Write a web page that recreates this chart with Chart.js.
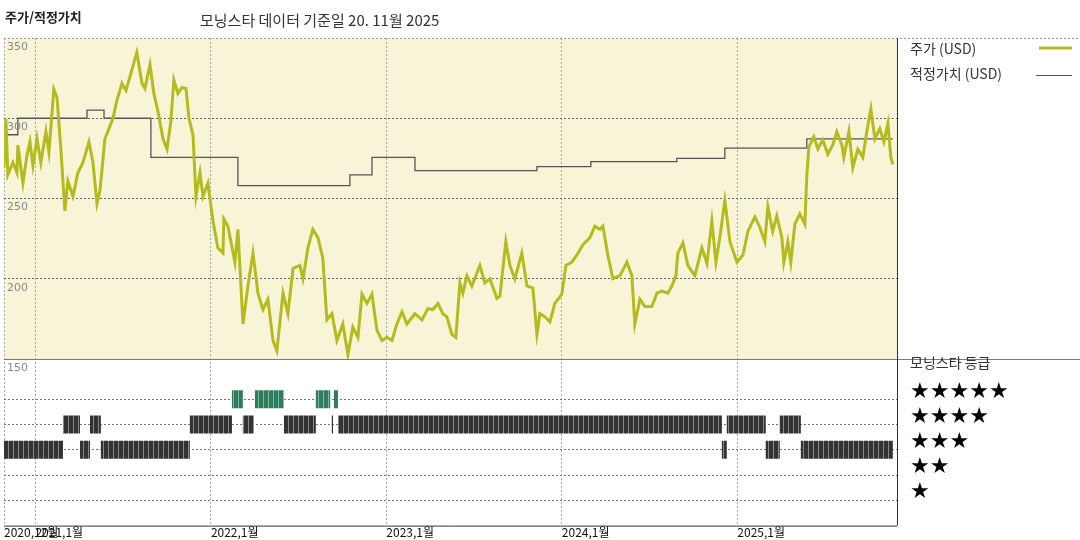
<!DOCTYPE html>
<html>
<head>
<meta charset="utf-8">
<script src="https://cdn.jsdelivr.net/npm/chart.js@4"></script>
<style>
  body { margin: 0; background: #fff; }
  #wrap { position: relative; width: 1080px; height: 540px; }
</style>
</head>
<body>
<div id="wrap"><canvas id="chart" width="1080" height="540"></canvas></div>
<script>
// x values are decimal years
const priceDates = [2020.821,2020.832,2020.843,2020.872,2020.895,2020.900,2020.929,2020.952,2020.969,2020.986,2021.009,2021.031,2021.060,2021.077,2021.105,2021.123,2021.145,2021.168,2021.185,2021.214,2021.242,2021.271,2021.305,2021.328,2021.351,2021.368,2021.396,2021.413,2021.442,2021.464,2021.493,2021.516,2021.550,2021.578,2021.607,2021.624,2021.653,2021.675,2021.698,2021.727,2021.750,2021.772,2021.789,2021.812,2021.835,2021.858,2021.875,2021.898,2021.915,2021.938,2021.955,2021.983,2022.012,2022.040,2022.069,2022.074,2022.097,2022.137,2022.154,2022.183,2022.211,2022.240,2022.268,2022.297,2022.325,2022.354,2022.376,2022.411,2022.439,2022.468,2022.507,2022.525,2022.553,2022.581,2022.610,2022.638,2022.661,2022.690,2022.718,2022.752,2022.781,2022.809,2022.838,2022.861,2022.889,2022.918,2022.946,2022.975,2023.003,2023.032,2023.060,2023.089,2023.117,2023.163,2023.203,2023.237,2023.265,2023.294,2023.322,2023.345,2023.373,2023.396,2023.419,2023.436,2023.459,2023.487,2023.510,2023.533,2023.561,2023.590,2023.630,2023.647,2023.681,2023.704,2023.732,2023.772,2023.801,2023.835,2023.858,2023.875,2023.903,2023.932,2023.960,2024.000,2024.023,2024.057,2024.086,2024.120,2024.160,2024.188,2024.217,2024.234,2024.262,2024.291,2024.331,2024.371,2024.399,2024.416,2024.445,2024.473,2024.513,2024.542,2024.570,2024.604,2024.627,2024.650,2024.661,2024.690,2024.718,2024.758,2024.798,2024.827,2024.855,2024.878,2024.901,2024.929,2024.958,2024.998,2025.032,2025.060,2025.100,2025.128,2025.157,2025.174,2025.202,2025.225,2025.254,2025.265,2025.288,2025.305,2025.328,2025.356,2025.385,2025.396,2025.408,2025.436,2025.459,2025.487,2025.516,2025.544,2025.567,2025.596,2025.607,2025.636,2025.658,2025.687,2025.715,2025.738,2025.761,2025.784,2025.812,2025.835,2025.858,2025.875,2025.886];
const priceValues = [269.2,299.4,264.7,272.4,266.0,283.3,259.6,276.9,285.3,270.5,287.2,272.4,291.7,278.9,317.9,312.8,280.8,242.3,260.9,251.3,266.0,272.4,285.3,272.4,246.8,255.1,287.2,291.7,300.0,310.9,321.8,317.3,330.1,341.0,321.8,318.6,333.3,315.4,304.5,287.2,280.8,298.1,323.7,315.4,319.2,318.6,300.0,289.7,251.3,266.0,251.3,259.6,235.9,219.2,216.0,237.2,232.7,210.3,230.8,171.8,195.5,216.0,191.0,180.8,187.2,161.5,155.1,191.0,178.2,206.4,208.3,200.0,219.2,230.8,225.6,212.8,174.4,178.2,161.5,171.8,152.6,169.9,163.5,190.4,184.6,190.4,168.0,161.5,163.5,161.5,171.8,179.5,171.8,178.2,174.4,181.4,180.8,184.6,178.2,176.3,165.4,163.5,197.4,191.0,201.9,195.5,201.9,208.3,197.4,200.0,187.8,189.1,223.1,208.3,200.0,216.0,195.5,194.2,165.4,178.2,176.3,173.1,184.6,190.4,208.3,210.3,214.8,221.2,225.6,232.7,230.8,232.7,214.8,200.0,201.9,210.3,201.9,171.8,187.2,182.7,182.7,191.0,192.3,191.0,195.5,201.9,216.0,222.4,208.3,201.9,219.2,209.6,235.9,210.3,226.2,248.7,223.1,210.3,214.8,229.5,238.5,232.1,223.1,244.9,229.5,239.1,225.6,210.3,223.1,210.3,234.0,240.4,234.0,264.1,282.1,288.5,280.8,286.5,277.6,283.3,291.7,283.3,275.6,291.7,269.2,280.8,275.6,291.7,305.8,287.2,293.6,285.3,296.8,275.6,271.2];

const fairDates = [2020.821,2020.900,2021.294,2021.391,2021.658,2022.154,2022.792,2022.918,2023.163,2023.858,2024.165,2024.655,2024.929,2025.396,2025.658,2025.886];
const fairValues = [275.6,289.7,300.0,305.1,300.0,275.6,258.0,264.7,275.6,267.3,269.9,273.0,275.0,281.4,287.2,287.2];

// rating intervals: [start, end, stars]
const ratingStart = [2020.821,2021.157,2021.254,2021.311,2021.373,2021.880,2022.120,2022.182,2022.251,2022.416,2022.598,2022.689,2022.701,2022.724,2024.912,2024.940,2025.162,2025.242,2025.362];
const ratingEnd   = [2021.157,2021.254,2021.311,2021.373,2021.880,2022.120,2022.182,2022.245,2022.416,2022.598,2022.680,2022.696,2022.724,2024.912,2024.940,2025.162,2025.242,2025.362,2025.886];
const ratingStars = [3,4,3,4,3,4,5,4,5,4,5,4,5,4,3,4,3,4,3];

const xTickValues = [2020.821,2021.0,2022.0,2023.0,2024.0,2025.0];
const xTickLabels = ['2020,12월','2021,1월','2022,1월','2023,1월','2024,1월','2025,1월'];
const yTickValues = [350,300,250,200,150];
const starLabels = ['★★★★★','★★★★','★★★','★★','★'];

const KR = '"Noto Sans CJK KR", sans-serif';
const green = '#b3bb1f';

function stripes(base, light) {
  const c = document.createElement('canvas');
  c.width = 5; c.height = 4;
  const g = c.getContext('2d');
  g.fillStyle = base; g.fillRect(0, 0, 5, 4);
  g.fillStyle = light; g.fillRect(3, 0, 1, 4);
  return g.createPattern(c, 'repeat');
}

const ratingSets = [5, 4, 3].map(level => {
  const pts = [];
  ratingStars.forEach((s, i) => {
    if (s !== level) return;
    pts.push({x: ratingStart[i], y: s}, {x: ratingEnd[i], y: s}, {x: ratingEnd[i], y: null});
  });
  return {
    data: pts, yAxisID: 'yr', borderWidth: 18, pointRadius: 0, borderCapStyle: 'butt',
    borderColor: level === 5 ? stripes('#2f7d5c', '#7fb89c') : stripes('#333', '#888'),
    spanGaps: false
  };
});

const frame = {
  id: 'frame',
  beforeDraw(chart) {
    const {ctx, chartArea: a, scales} = chart;
    const yp = scales.y;
    ctx.save();
    ctx.fillStyle = '#f8f4d8';
    ctx.fillRect(a.left, yp.top, a.right - a.left, yp.bottom - yp.top);
    ctx.restore();
  },
  afterDraw(chart) {
    const {ctx, chartArea: a, scales} = chart;
    const yp = scales.y;
    ctx.save();
    // titles
    ctx.fillStyle = '#222';
    ctx.font = 'bold 13px ' + KR;
    ctx.textBaseline = 'middle';
    ctx.fillText('주가/적정가치', 5, 17);
    ctx.font = '15px ' + KR;
    ctx.fillStyle = '#333';
    ctx.fillText('모닝스타 데이터 기준일 20. 11월 2025', 200, 20);
    // y labels
    ctx.font = '11px "DejaVu Sans", sans-serif';
    ctx.fillStyle = '#888';
    yTickValues.forEach(v => ctx.fillText(String(v), a.left + 3, yp.getPixelForValue(v) + 9));
    // borders
    ctx.strokeStyle = '#999';
    ctx.setLineDash([2, 2]);
    ctx.lineWidth = 1;
    ctx.beginPath(); ctx.moveTo(a.left, a.top + 0.5); ctx.lineTo(1080, a.top + 0.5); ctx.stroke();
    ctx.setLineDash([]);
    ctx.strokeStyle = '#777';
    ctx.beginPath(); ctx.moveTo(a.left, yp.bottom + 0.5); ctx.lineTo(1080, yp.bottom + 0.5); ctx.stroke();
    ctx.strokeStyle = '#333';
    ctx.beginPath(); ctx.moveTo(a.right + 0.5, a.top); ctx.lineTo(a.right + 0.5, a.bottom); ctx.stroke();
    ctx.beginPath(); ctx.moveTo(a.left, a.bottom + 0.5); ctx.lineTo(a.right, a.bottom + 0.5); ctx.stroke();
    // legend
    ctx.font = '14px ' + KR;
    ctx.fillStyle = '#333';
    ctx.fillText('주가 (USD)', 910, 49);
    ctx.fillText('적정가치 (USD)', 910, 74);
    ctx.strokeStyle = green; ctx.lineWidth = 3;
    ctx.beginPath(); ctx.moveTo(1039, 48); ctx.lineTo(1072, 48); ctx.stroke();
    ctx.strokeStyle = '#555'; ctx.lineWidth = 1;
    ctx.beginPath(); ctx.moveTo(1036, 75.5); ctx.lineTo(1072, 75.5); ctx.stroke();
    ctx.fillText('모닝스타 등급', 910, 363);
    ctx.font = '22px "DejaVu Sans", sans-serif';
    ctx.fillStyle = '#000';
    starLabels.forEach((s, i) => ctx.fillText(s, 910, 392 + i * 25));
    ctx.restore();
  }
};

new Chart(document.getElementById('chart'), {
  type: 'line',
  plugins: [frame],
  data: {
    datasets: [
      { data: priceDates.map((d, i) => ({x: d, y: priceValues[i]})), yAxisID: 'y',
        borderColor: green, borderWidth: 3, pointRadius: 0, tension: 0 },
      { data: fairDates.map((d, i) => ({x: d, y: fairValues[i]})), yAxisID: 'y',
        borderColor: '#555', borderWidth: 1.3, pointRadius: 0, stepped: 'after' },
      ...ratingSets
    ]
  },
  options: {
    responsive: false,
    animation: false,
    layout: { padding: { left: 4, right: 183, top: 38, bottom: 0 } },
    plugins: { legend: { display: false }, tooltip: { enabled: false } },
    scales: {
      x: {
        type: 'linear', min: 2020.821, max: 2025.91,
        afterBuildTicks: s => { s.ticks = xTickValues.map(v => ({value: v})); },
        ticks: {
          align: 'start', padding: 0, maxRotation: 0, autoSkip: false,
          color: '#111', font: { size: 12, family: KR },
          callback: v => xTickLabels[xTickValues.indexOf(v)]
        },
        grid: { color: '#aaa', drawTicks: false },
        border: { display: false, dash: [2, 2] }
      },
      yr: {
        stack: 'v', stackWeight: 163, min: 0, max: 6.6, offset: false,
        afterBuildTicks: s => { s.ticks = [1, 2, 3, 4, 5].map(v => ({value: v})); },
        ticks: { display: false },
        grid: { color: '#777', drawTicks: false },
        border: { display: false, dash: [2, 2] },
        afterFit: s => { s.width = 0; }
      },
      y: {
        stack: 'v', stackWeight: 314, min: 150, max: 350, offset: false,
        afterBuildTicks: s => { s.ticks = [200, 250, 300].map(v => ({value: v})); },
        ticks: { display: false },
        grid: { color: '#666', drawTicks: false },
        border: { display: false, dash: [2, 2] },
        afterFit: s => { s.width = 0; }
      }
    }
  }
});
</script>
</body>
</html>
